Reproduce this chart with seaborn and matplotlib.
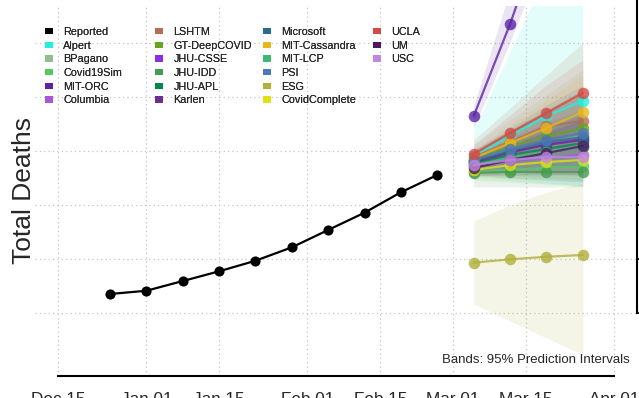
import matplotlib
matplotlib.use("Agg")
import matplotlib.pyplot as plt
import matplotlib.dates as mdates
from matplotlib.patches import Patch
import seaborn as sns
import pandas as pd

# observed weekly totals
report_dates = pd.date_range("2020-12-25", periods=10, freq="7D")
reported = [21760, 22060, 22960, 23860, 24840, 26080, 27690, 29290, 31180, 32780]

# forecast targets (1-4 weeks ahead)
fc_dates = pd.date_range("2021-03-05", periods=4, freq="7D")

models = ["Alpert", "BPagano", "Covid19Sim", "MIT-ORC", "Columbia",
          "LSHTM", "GT-DeepCOVID", "JHU-CSSE", "JHU-IDD", "JHU-APL", "Karlen",
          "Microsoft", "MIT-Cassandra", "MIT-LCP", "PSI", "ESG", "CovidComplete",
          "UCLA", "UM", "USC"]

colors = {
    "Alpert": "#1ef2dc", "BPagano": "#8fbf8c", "Covid19Sim": "#55c864",
    "MIT-ORC": "#5b24a3", "Columbia": "#a957d6", "LSHTM": "#b86b55",
    "GT-DeepCOVID": "#6aa31f", "JHU-CSSE": "#8a2ee0", "JHU-IDD": "#469a50",
    "JHU-APL": "#008a45", "Karlen": "#6a2e90", "Microsoft": "#2b6c8b",
    "MIT-Cassandra": "#e6b81a", "MIT-LCP": "#3cb878", "PSI": "#4f78b8",
    "ESG": "#b0b03a", "CovidComplete": "#e0e014", "UCLA": "#d44a44",
    "UM": "#4a1a60", "USC": "#bf88e0",
}

median = {
    "Alpert": [34540, 36390, 38240, 39630],
    "BPagano": [34070, 35090, 35740, 36390],
    "Covid19Sim": [33060, 33240, 33430, 33610],
    "MIT-ORC": [38240, 46760, 56390, 66570],
    "Columbia": [33610, 34070, 34350, 34630],
    "LSHTM": [34440, 35830, 37310, 37780],
    "GT-DeepCOVID": [34170, 35460, 36300, 37130],
    "JHU-CSSE": [33890, 34810, 35650, 36110],
    "JHU-IDD": [32960, 33060, 33060, 33060],
    "JHU-APL": [33800, 34630, 35190, 35740],
    "Karlen": [33980, 34910, 35560, 36020],
    "Microsoft": [34070, 35000, 35830, 36300],
    "MIT-Cassandra": [34350, 35740, 37130, 38610],
    "MIT-LCP": [33700, 34350, 34910, 35370],
    "PSI": [34170, 35190, 36020, 36670],
    "ESG": [24660, 24970, 25210, 25370],
    "CovidComplete": [33240, 33700, 33980, 34170],
    "UCLA": [34720, 36670, 38520, 40370],
    "UM": [33430, 34170, 34810, 35460],
    "USC": [33700, 34170, 34440, 34440],
}

lower = {
    "Alpert": [32690, 32310, 32040, 31760],
    "BPagano": [32780, 32500, 32310, 32130],
    "Covid19Sim": [32310, 32130, 31940, 31760],
    "MIT-ORC": [37130, 45090, 53610, 62870],
    "Columbia": [32780, 32500, 32310, 32130],
    "LSHTM": [33060, 33060, 33060, 33060],
    "GT-DeepCOVID": [33430, 33980, 34350, 34630],
    "JHU-CSSE": [33240, 33610, 33890, 34170],
    "JHU-IDD": [31670, 31670, 31670, 31670],
    "JHU-APL": [33060, 33240, 33240, 33240],
    "Karlen": [33060, 33060, 32870, 32780],
    "Microsoft": [33240, 33430, 33520, 33610],
    "MIT-Cassandra": [33610, 34170, 34910, 35560],
    "MIT-LCP": [32870, 32780, 32500, 32310],
    "PSI": [33240, 33430, 33610, 33700],
    "ESG": [20830, 19260, 17690, 16110],
    "CovidComplete": [32500, 32500, 32500, 32500],
    "UCLA": [33890, 34910, 36020, 37130],
    "UM": [32690, 32780, 32780, 32780],
    "USC": [33060, 33060, 33060, 32870],
}

upper = {
    "Alpert": [36940, 44170, 51390, 58610],
    "BPagano": [35560, 37870, 40190, 42500],
    "Covid19Sim": [33700, 34350, 34910, 35280],
    "MIT-ORC": [39170, 49910, 61020, 73060],
    "Columbia": [34630, 36020, 37130, 38330],
    "LSHTM": [36020, 38980, 42040, 45000],
    "GT-DeepCOVID": [34910, 36940, 38800, 40650],
    "JHU-CSSE": [34630, 36200, 37690, 38800],
    "JHU-IDD": [33610, 33980, 34350, 34630],
    "JHU-APL": [34540, 36020, 37130, 38330],
    "Karlen": [35090, 36940, 38800, 40650],
    "Microsoft": [34910, 36760, 38610, 40190],
    "MIT-Cassandra": [35090, 37410, 39720, 42040],
    "MIT-LCP": [34630, 36020, 37410, 38610],
    "PSI": [35090, 37130, 39260, 41110],
    "ESG": [28520, 30000, 31200, 32040],
    "CovidComplete": [33980, 34630, 35090, 35560],
    "UCLA": [35560, 38330, 41110, 43430],
    "UM": [34350, 35560, 36760, 37870],
    "USC": [34350, 35280, 35830, 36200],
}

date_ticks = pd.to_datetime(["2020-12-15", "2021-01-01", "2021-01-15", "2021-02-01",
                             "2021-02-15", "2021-03-01", "2021-03-15", "2021-04-01"])
y_ticks = [20000, 25000, 30000, 35000, 40000, 45000, 50000]

sns.set_style("white")
plt.rcParams["font.family"] = ["Liberation Sans", "DejaVu Sans"]

fig = plt.figure(figsize=(6.39, 3.98), dpi=100)
ax = fig.add_axes([35 / 639, 22 / 398, 602 / 639, 370 / 398])

# prediction bands
for m in models:
    ax.fill_between(fc_dates, lower[m], upper[m], color=colors[m], alpha=0.12, linewidth=0)

fc = pd.DataFrame([
    {"date": d, "model": m, "deaths": v}
    for m in models for d, v in zip(fc_dates, median[m])
])
sns.lineplot(data=fc, x="date", y="deaths", hue="model", hue_order=models,
             palette=colors, marker="o", markersize=8.3, markeredgewidth=0,
             linewidth=1.6, alpha=0.8, legend=False, ax=ax)
sns.lineplot(x=report_dates, y=reported, color="black", marker="o", markersize=7.3,
             markeredgewidth=0, linewidth=1.6, ax=ax)

ax.set_xticks(date_ticks)
ax.xaxis.set_major_formatter(mdates.DateFormatter("%b %d"))
ax.set_yticks(y_ticks)
ax.set_xlim(pd.Timestamp("2020-12-15") - pd.Timedelta(days=4.43),
            pd.Timestamp("2021-04-01") + pd.Timedelta(days=4.43))
ax.set_ylim(14167, 48426)
ax.yaxis.tick_right()
ax.grid(True, linestyle=(0, (1, 2.5)), color="#c4c4c4", linewidth=0.9)
ax.set_axisbelow(True)

for s in ["left", "top"]:
    ax.spines[s].set_visible(False)
ax.spines["bottom"].set_bounds(mdates.date2num(date_ticks[0]), mdates.date2num(date_ticks[-1]))
ax.spines["right"].set_bounds(20000, 50000)
for s in ["bottom", "right"]:
    ax.spines[s].set_linewidth(1.5)
    ax.spines[s].set_color("black")
ax.tick_params(axis="x", length=4.3, width=1.5, pad=7.5, labelsize=12.3, direction="out")
ax.tick_params(axis="y", length=3, width=1.5, labelright=False, labelleft=False,
               direction="out", right=True, left=False)

ax.set_xlabel("")
ax.set_ylabel("Total Deaths", fontsize=19)
ax.yaxis.set_label_position("left")
ax.yaxis.set_label_coords(0.002, 0.5)

ax.text(0.988, 0.043, "Bands: 95% Prediction Intervals", transform=ax.transAxes,
        ha="right", va="center", fontsize=9.5)

# legend: four equal-width columns
names = ["Reported"] + models
leg_colors = ["black"] + [colors[m] for m in models]
col_x = [45, 155, 263, 373]
for i, x0 in enumerate(col_x):
    idx = range(i * 6, min(i * 6 + 6, len(names)))
    handles = [Patch(facecolor=leg_colors[j], edgecolor="none", label=names[j]) for j in idx]
    leg = fig.legend(handles=handles, loc="upper left", bbox_to_anchor=(x0 / 639, 1 - 27 / 398),
                     frameon=False, fontsize=7.8, handlelength=0.75, handleheight=0.55,
                     handletextpad=0.95, labelspacing=0.34, borderpad=0, borderaxespad=0)
    fig.add_artist(leg)

fig.savefig("out.png", dpi=100)
